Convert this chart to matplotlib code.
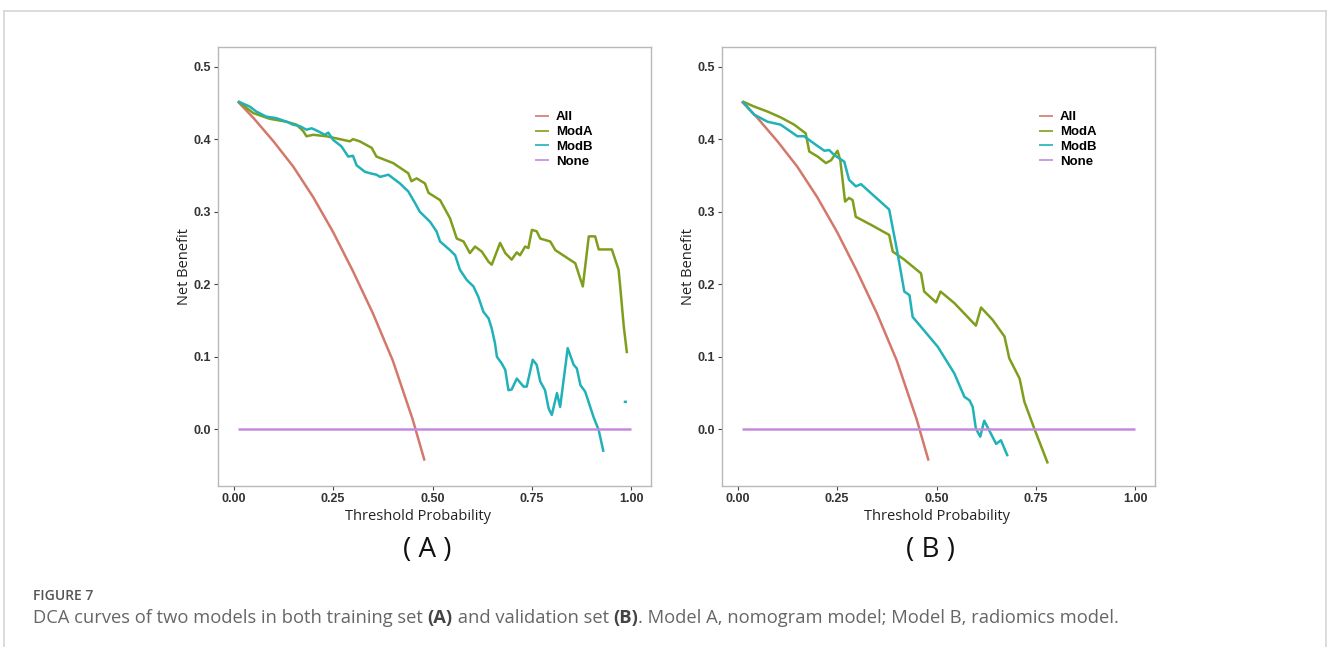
import matplotlib
matplotlib.use("Agg")
import matplotlib.pyplot as plt
from matplotlib.lines import Line2D
import numpy as np

# ---- data ----
# treat-all curve (same prevalence in both sets)
all_x = [0.01, 0.05, 0.10, 0.15, 0.20, 0.25, 0.30, 0.35, 0.40, 0.45, 0.48]
all_y = [0.452, 0.429, 0.397, 0.362, 0.320, 0.272, 0.218, 0.160, 0.095, 0.014, -0.043]

none_x = [0.01, 1.00]
none_y = [0.0, 0.0]

# training set (A)
a_moda_x = [0.011, 0.049, 0.091, 0.133, 0.158, 0.175, 0.183, 0.200, 0.233, 0.267,
            0.292, 0.300, 0.317, 0.347, 0.359, 0.401, 0.439, 0.447, 0.460, 0.481,
            0.490, 0.519, 0.544, 0.561, 0.578, 0.594, 0.607, 0.624, 0.641, 0.649,
            0.670, 0.683, 0.699, 0.712, 0.720, 0.733, 0.741, 0.750, 0.762, 0.771,
            0.796, 0.809, 0.859, 0.878, 0.893, 0.909, 0.918, 0.951, 0.968, 0.972,
            0.981, 0.989]
a_moda_y = [0.452, 0.436, 0.428, 0.424, 0.420, 0.411, 0.404, 0.406, 0.404, 0.400,
            0.397, 0.400, 0.397, 0.388, 0.376, 0.367, 0.353, 0.342, 0.346, 0.339,
            0.326, 0.316, 0.291, 0.263, 0.259, 0.243, 0.252, 0.245, 0.231, 0.227,
            0.257, 0.243, 0.234, 0.244, 0.240, 0.252, 0.250, 0.275, 0.273, 0.263,
            0.259, 0.247, 0.229, 0.197, 0.266, 0.266, 0.248, 0.248, 0.220, 0.197,
            0.142, 0.105]

a_modb_x = [0.011, 0.040, 0.057, 0.082, 0.107, 0.133, 0.149, 0.166, 0.183, 0.196,
            0.212, 0.229, 0.238, 0.250, 0.271, 0.288, 0.300, 0.309, 0.330, 0.343,
            0.359, 0.368, 0.389, 0.418, 0.439, 0.456, 0.468, 0.494, 0.510, 0.519,
            0.544, 0.557, 0.569, 0.586, 0.603, 0.615, 0.628, 0.641, 0.649, 0.657,
            0.662, 0.674, 0.683, 0.691, 0.699, 0.712, 0.729, 0.737, 0.752, 0.762,
            0.771, 0.783, 0.792, 0.800, 0.813, 0.821, 0.840, 0.855, 0.863, 0.872,
            0.884, 0.905, 0.918, 0.930, np.nan, 0.981, 0.989]
a_modb_y = [0.452, 0.445, 0.438, 0.431, 0.429, 0.424, 0.420, 0.418, 0.413, 0.415,
            0.411, 0.406, 0.409, 0.399, 0.390, 0.376, 0.377, 0.364, 0.355, 0.353,
            0.351, 0.348, 0.351, 0.339, 0.328, 0.312, 0.300, 0.286, 0.273, 0.259,
            0.247, 0.240, 0.220, 0.206, 0.197, 0.183, 0.162, 0.153, 0.139, 0.119,
            0.100, 0.091, 0.082, 0.054, 0.055, 0.070, 0.059, 0.059, 0.096, 0.089,
            0.066, 0.054, 0.029, 0.020, 0.050, 0.031, 0.112, 0.089, 0.084, 0.061,
            0.052, 0.017, -0.001, -0.031, np.nan, 0.038, 0.038]

# validation set (B)
b_moda_x = [0.012, 0.041, 0.075, 0.108, 0.142, 0.171, 0.180, 0.201, 0.222, 0.235,
            0.251, 0.258, 0.270, 0.280, 0.289, 0.297, 0.335, 0.381, 0.390, 0.419,
            0.461, 0.469, 0.499, 0.510, 0.545, 0.599, 0.612, 0.641, 0.671, 0.683,
            0.709, 0.721, 0.746, 0.780]
b_moda_y = [0.452, 0.445, 0.438, 0.430, 0.420, 0.408, 0.383, 0.376, 0.367, 0.371,
            0.384, 0.371, 0.314, 0.319, 0.316, 0.293, 0.282, 0.268, 0.245, 0.234,
            0.215, 0.190, 0.175, 0.190, 0.174, 0.143, 0.168, 0.151, 0.128, 0.098,
            0.070, 0.038, 0.001, -0.047]

b_modb_x = [0.012, 0.041, 0.075, 0.108, 0.150, 0.167, 0.192, 0.218, 0.230, 0.243,
            0.268, 0.280, 0.297, 0.310, 0.381, 0.402, 0.419, 0.432, 0.440, 0.503,
            0.545, 0.570, 0.583, 0.591, 0.599, 0.610, 0.620, 0.650, 0.662, 0.679]
b_modb_y = [0.452, 0.434, 0.424, 0.420, 0.404, 0.404, 0.394, 0.384, 0.385, 0.378,
            0.369, 0.344, 0.335, 0.338, 0.303, 0.243, 0.190, 0.185, 0.155, 0.114,
            0.077, 0.045, 0.040, 0.031, 0.001, -0.010, 0.012, -0.020, -0.015, -0.037]

labels = ["All", "ModA", "ModB", "None"]
colors = ["#D4786C", "#7F9E1C", "#20B2B8", "#C58BDF"]

x_ticks = [0.0, 0.25, 0.5, 0.75, 1.0]
x_ticklabels = ["0.00", "0.25", "0.50", "0.75", "1.00"]
y_ticks = [0.0, 0.1, 0.2, 0.3, 0.4, 0.5]

W, H = 1328, 647
fig = plt.figure(figsize=(W / 100, H / 100), dpi=100)
fig.patch.set_facecolor("white")

# outer frame of the figure box
frame_kw = dict(color="#D5D5D5", lw=1.2, transform=fig.transFigure)
fig.add_artist(Line2D([4 / W, 4 / W], [0, 1 - 11 / H], **frame_kw))
fig.add_artist(Line2D([4 / W, 1326 / W], [1 - 11 / H, 1 - 11 / H], **frame_kw))
fig.add_artist(Line2D([1326 / W, 1326 / W], [0, 1 - 11 / H], **frame_kw))


def make_panel(left_px, series, tag, xlab_x):
    ax = fig.add_axes([left_px / W, 1 - 486 / H, 433 / W, 439 / H])
    for (xs, ys), lab, col in zip(series, labels, colors):
        ax.plot(xs, ys, color=col, lw=1.8, label=lab, solid_capstyle="butt")
    ax.set_xlim(-0.0395, 1.0495)
    ax.set_ylim(-0.078, 0.527)
    ax.set_xticks(x_ticks)
    ax.set_xticklabels(x_ticklabels)
    ax.set_yticks(y_ticks)
    ax.set_yticklabels([f"{v:.1f}" for v in y_ticks])
    for s in ax.spines.values():
        s.set_color("#B8B8B8")
        s.set_linewidth(1.0)
    ax.tick_params(length=3, width=0.8, color="#444444", labelcolor="#333333",
                   labelsize=9, pad=2)
    for t in ax.get_xticklabels() + ax.get_yticklabels():
        t.set_fontfamily("Liberation Sans")
        t.set_fontweight("bold")
    ax.set_xlabel("Threshold Probability", fontsize=10.5, family="Open Sans",
                  color="#222222")
    ax.xaxis.set_label_coords(xlab_x, -0.052)
    ax.set_ylabel("Net Benefit", fontsize=10.5, family="Open Sans",
                  color="#222222", labelpad=1)
    leg = ax.legend(loc="upper left", bbox_to_anchor=(0.721, 0.866), frameon=False,
                    handlelength=1.0, handletextpad=0.55, labelspacing=0.2,
                    borderaxespad=0.0,
                    prop=dict(family="Liberation Sans", weight="bold", size=9.5))
    for h in leg.get_lines():
        h.set_linewidth(1.2)
    fig.text((left_px + 209) / W, 1 - 550 / H, tag, ha="center", va="center",
             fontsize=20, family="Open Sans", color="#111111")
    return ax


series_a = [(all_x, all_y), (a_moda_x, a_moda_y), (a_modb_x, a_modb_y), (none_x, none_y)]
series_b = [(all_x, all_y), (b_moda_x, b_moda_y), (b_modb_x, b_modb_y), (none_x, none_y)]
make_panel(218, series_a, "( A )", 0.462)
make_panel(722, series_b, "( B )", 0.497)

fig.text(33 / W, 1 - 600 / H, "FIGURE 7", fontsize=10, family="Open Sans",
         weight="semibold", color="#555555", va="baseline", ha="left")
cap_y = 1 - 623 / H
cap_kw = dict(fontsize=13.2, family="Open Sans", color="#666666", va="baseline")
t1 = fig.text(33 / W, cap_y, "DCA curves of two models in both training set ", **cap_kw)
fig.canvas.draw()
r = fig.canvas.get_renderer()
x = 33 + t1.get_window_extent(r).width
parts = [("(A)", "bold"), (" and validation set ", "normal"), ("(B)", "bold"),
         (". Model A, nomogram model; Model B, radiomics model.", "normal")]
for txt, wt in parts:
    kw = dict(cap_kw)
    if wt == "bold":
        kw["color"] = "#444444"
    t = fig.text(x / W, cap_y, txt, weight=wt, **kw)
    x += t.get_window_extent(r).width

fig.savefig("out.png", dpi=100, facecolor="white")
